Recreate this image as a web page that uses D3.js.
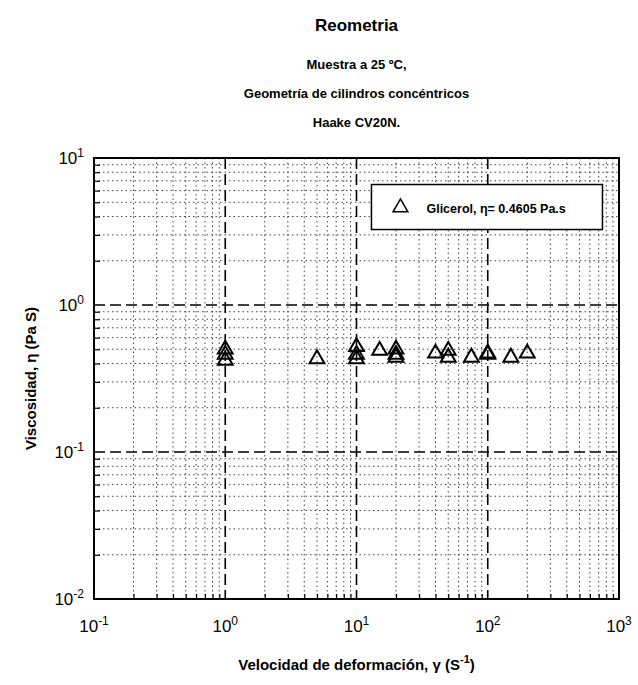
<!DOCTYPE html>
<html>
<head>
<meta charset="utf-8">
<script src="https://cdn.jsdelivr.net/npm/d3@7"></script>
<style>
  body { margin: 0; background: #fff; }
  text { font-family: "Liberation Sans", Arial, sans-serif; fill: #000; }
</style>
</head>
<body>
<svg id="chart" width="638" height="685"></svg>
<script>
const titleLines = ['Muestra a 25 ºC,', 'Geometría de cilindros concéntricos', 'Haake CV20N.'];
const xDecades = [-1, 0, 1, 2, 3];
const yDecades = [-2, -1, 0, 1];
const shearRate = [1, 1, 1, 5, 10, 10, 10, 15, 20, 20, 20, 40, 50, 50, 75, 100, 100, 150, 200];
const viscosity = [0.50, 0.46, 0.42, 0.43, 0.52, 0.46, 0.43, 0.49, 0.50, 0.46, 0.44, 0.47, 0.49, 0.44, 0.44, 0.47, 0.46, 0.44, 0.47];
const legendLabel = 'Glicerol, η= 0.4605 Pa.s';

const margin = { top: 158, right: 19, bottom: 86, left: 94 };
const width = 638 - margin.left - margin.right;
const height = 685 - margin.top - margin.bottom;

const svg = d3.select('#chart');
const graph = svg.append('g').attr('transform', `translate(${margin.left},${margin.top})`);

//set scale
const x = d3.scaleLog().domain([0.1, 1000]).range([0, width]);
const y = d3.scaleLog().domain([0.01, 10]).range([height, 0]);

const minorX = x.ticks().filter(d => !xDecades.includes(Math.round(Math.log10(d) * 1000) / 1000));
const minorY = y.ticks().filter(d => !yDecades.includes(Math.round(Math.log10(d) * 1000) / 1000));

//minor dotted grid
graph.append('g').selectAll('line').data(minorX).enter().append('line')
  .attr('x1', d => x(d)).attr('x2', d => x(d))
  .attr('y1', 0).attr('y2', height)
  .attr('stroke', '#444').attr('stroke-width', 1).attr('stroke-dasharray', '1.5,3');
graph.append('g').selectAll('line').data(minorY).enter().append('line')
  .attr('x1', 0).attr('x2', width)
  .attr('y1', d => y(d)).attr('y2', d => y(d))
  .attr('stroke', '#444').attr('stroke-width', 1).attr('stroke-dasharray', '1.5,3');

//major dashed grid
graph.append('g').selectAll('line').data(xDecades.slice(1, -1)).enter().append('line')
  .attr('x1', d => x(10 ** d)).attr('x2', d => x(10 ** d))
  .attr('y1', 0).attr('y2', height)
  .attr('stroke', '#000').attr('stroke-width', 1.6).attr('stroke-dasharray', '11,5');
graph.append('g').selectAll('line').data(yDecades.slice(1, -1)).enter().append('line')
  .attr('x1', 0).attr('x2', width)
  .attr('y1', d => y(10 ** d)).attr('y2', d => y(10 ** d))
  .attr('stroke', '#000').attr('stroke-width', 1.6).attr('stroke-dasharray', '11,5');

//axes with inward minor ticks
const xAxis = d3.axisBottom(x).tickValues(minorX).tickSize(-5).tickFormat('');
const yAxis = d3.axisLeft(y).tickValues(minorY).tickSize(-6).tickFormat('');
const xAxisGroup = graph.append('g').attr('transform', `translate(0,${height})`).call(xAxis);
const yAxisGroup = graph.append('g').call(yAxis);
[xAxisGroup, yAxisGroup].forEach(g => {
  g.select('.domain').remove();
  g.selectAll('line').attr('stroke', '#000').attr('stroke-width', 1.2);
});

//frame
graph.append('rect')
  .attr('width', width).attr('height', height)
  .attr('fill', 'none').attr('stroke', '#000').attr('stroke-width', 2);

//tick labels with superscripts
const xLabels = graph.append('g').selectAll('text').data(xDecades).enter().append('text')
  .attr('x', d => x(10 ** d)).attr('y', height + 33)
  .attr('text-anchor', 'middle').style('font-size', '17px');
xLabels.append('tspan').text('10');
xLabels.append('tspan').attr('dy', -7).style('font-size', '12px').text(d => d);

const yLabels = graph.append('g').selectAll('text').data(yDecades).enter().append('text')
  .attr('x', -10).attr('y', d => y(10 ** d) + 6)
  .attr('text-anchor', 'end').style('font-size', '17px');
yLabels.append('tspan').text('10');
yLabels.append('tspan').attr('dy', -7).style('font-size', '12px').text(d => d);

//data points
const tri = d3.symbol().type(d3.symbolTriangle).size(95);
graph.append('g').selectAll('path').data(shearRate).enter().append('path')
  .attr('d', tri)
  .attr('transform', (d, i) => `translate(${x(d)},${y(viscosity[i])})`)
  .attr('fill', 'none').attr('stroke', '#000').attr('stroke-width', 2);

//legend
const legend = graph.append('g').attr('transform', `translate(${x(13)},${y(6.6)})`);
legend.append('rect')
  .attr('width', 231).attr('height', 45)
  .attr('fill', '#fff').attr('stroke', '#000').attr('stroke-width', 1.5);
legend.append('path').attr('d', tri)
  .attr('transform', 'translate(29,23)')
  .attr('fill', 'none').attr('stroke', '#000').attr('stroke-width', 1.5);
legend.append('text')
  .attr('x', 55).attr('y', 28)
  .style('font-size', '12.5px').style('font-weight', 'bold')
  .text(legendLabel);

//titles
svg.append('text')
  .attr('x', margin.left + width / 2).attr('y', 31)
  .attr('text-anchor', 'middle')
  .style('font-size', '17px').style('font-weight', 'bold')
  .text('Reometria');
svg.append('g').selectAll('text').data(titleLines).enter().append('text')
  .attr('x', margin.left + width / 2).attr('y', (d, i) => 69 + i * 29)
  .attr('text-anchor', 'middle')
  .style('font-size', '13px').style('font-weight', 'bold')
  .text(d => d);

//axis titles
const xTitle = svg.append('text')
  .attr('x', margin.left + width / 2).attr('y', 670)
  .attr('text-anchor', 'middle')
  .style('font-size', '15px').style('font-weight', 'bold');
xTitle.append('tspan').text('Velocidad de deformación, γ (S');
xTitle.append('tspan').attr('dy', -7).style('font-size', '11px').text('-1');
xTitle.append('tspan').attr('dy', 7).text(')');

svg.append('text')
  .attr('transform', `translate(36,${margin.top + height / 2}) rotate(-90)`)
  .attr('text-anchor', 'middle')
  .style('font-size', '15px').style('font-weight', 'bold')
  .text('Viscosidad, η (Pa S)');
</script>
</body>
</html>
